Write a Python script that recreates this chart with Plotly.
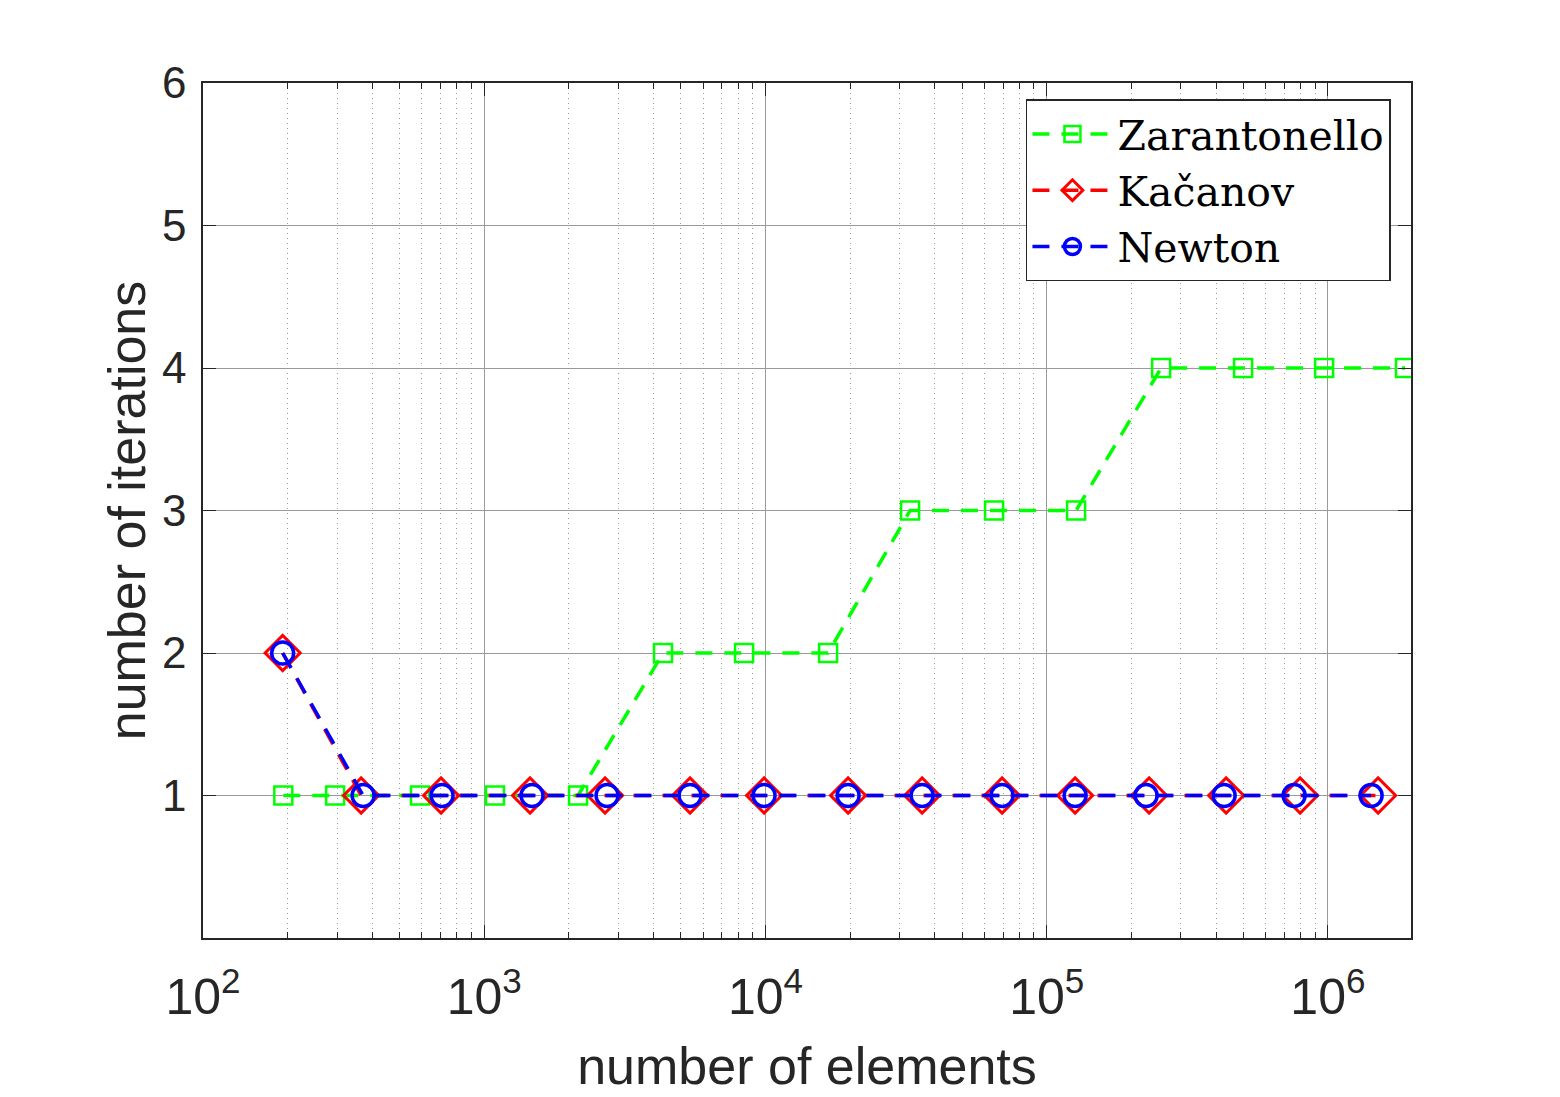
import plotly.graph_objects as go

# number of elements per refinement level
zar_elements = [193, 295, 591, 1092, 2156, 4323, 8394, 16700, 32680,
                65000, 127200, 255200, 499400, 969400, 1880000]
zar_iters = [1, 1, 1, 1, 1, 2, 2, 2, 3, 3, 3, 4, 4, 4, 4]

kac_elements = [192, 365, 702, 1455, 2689, 5393, 9886, 19670, 36060,
                69400, 126200, 231300, 434500, 796300, 1508000]
kac_iters = [2, 1, 1, 1, 1, 1, 1, 1, 1, 1, 1, 1, 1, 1, 1]

new_elements = [192, 371, 708, 1479, 2734, 5393, 9886, 19670, 36060,
                69400, 126200, 225700, 427500, 758300, 1424000]
new_iters = [2, 1, 1, 1, 1, 1, 1, 1, 1, 1, 1, 1, 1, 1, 1]

x_tickvals = [1e2, 1e3, 1e4, 1e5, 1e6]
x_ticktext = ["10<sup>2</sup>", "10<sup>3</sup>", "10<sup>4</sup>",
              "10<sup>5</sup>", "10<sup>6</sup>"]
y_tickvals = [1, 2, 3, 4, 5, 6]

# minor ticks 2..9 in each decade
minor_vals = [m * 10 ** e for e in range(2, 7) for m in range(2, 10)]

fig = go.Figure()

DASH = "17px,12px"

fig.add_trace(go.Scatter(
    x=zar_elements, y=zar_iters, name="Zarantonello", mode="lines+markers",
    line=dict(color="#00FF00", width=3.5, dash=DASH),
    marker=dict(symbol="square-open", size=18, color="#00FF00",
                line=dict(width=2.5, color="#00FF00")),
))
fig.add_trace(go.Scatter(
    x=kac_elements, y=kac_iters, name="Kačanov", mode="lines+markers",
    line=dict(color="#FF0000", width=3.5, dash=DASH),
    marker=dict(symbol="diamond-open", size=27, color="#FF0000",
                line=dict(width=3, color="#FF0000")),
))
fig.add_trace(go.Scatter(
    x=new_elements, y=new_iters, name="Newton", mode="lines+markers",
    line=dict(color="#0000FF", width=3.5, dash=DASH),
    marker=dict(symbol="circle-open", size=22, color="#0000FF",
                line=dict(width=3.5, color="#0000FF")),
))

axis_col = "#262626"

fig.update_layout(
    width=1560, height=1097,
    paper_bgcolor="white", plot_bgcolor="white",
    margin=dict(l=195, r=157, t=75, b=167),
    font=dict(family="Liberation Sans, Arial, sans-serif", color=axis_col),
    xaxis=dict(
        type="log", range=[2, 6.2954],
        tickmode="array", tickvals=x_tickvals, ticktext=x_ticktext,
        tickfont=dict(size=50),
        ticks="inside", ticklen=13, tickcolor=axis_col,
        ticklabelstandoff=14,
        showline=True, linecolor=axis_col, linewidth=1.5, mirror="ticks",
        showgrid=True, gridcolor="#9a9a9a", gridwidth=1,
        minor=dict(tickmode="array", tickvals=minor_vals,
                   ticks="inside", ticklen=6, tickcolor=axis_col,
                   showgrid=True, gridcolor="#9a9a9a", griddash="1px,4px", gridwidth=1),
        zeroline=False,
        title=dict(text="number of elements", font=dict(size=52), standoff=24),
    ),
    yaxis=dict(
        range=[0, 6], tickmode="array", tickvals=y_tickvals,
        tickfont=dict(size=44),
        ticks="inside", ticklen=13, tickcolor=axis_col,
        ticklabelstandoff=6,
        showline=True, linecolor=axis_col, linewidth=1.5, mirror="ticks",
        showgrid=True, gridcolor="#9a9a9a", gridwidth=1,
        zeroline=False,
        title=dict(text="number of iterations", font=dict(size=52), standoff=0),
    ),
    legend=dict(
        x=0.9834, y=0.981, xanchor="right", yanchor="top",
        bgcolor="white", bordercolor=axis_col, borderwidth=1.5,
        font=dict(family="DejaVu Serif, Liberation Serif, serif", size=41, color="black"),
        itemwidth=80, tracegroupgap=0,
    ),
    showlegend=True,
)

fig.write_html("out.html")
